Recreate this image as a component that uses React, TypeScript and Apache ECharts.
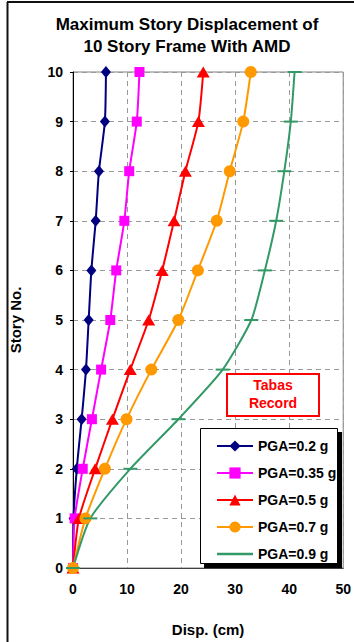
import React, { useEffect, useRef } from "react";
import * as echarts from "echarts";

const stories = [0, 1, 2, 3, 4, 5, 6, 7, 8, 9, 10];
const pga02 = [0, 0.1, 0.7, 1.6, 2.4, 2.9, 3.4, 4.2, 4.8, 5.9, 6.1];
const pga035 = [0, 0.3, 1.8, 3.5, 5.2, 6.9, 8.0, 9.5, 10.4, 11.8, 12.3];
const pga05 = [0, 1.1, 4.1, 7.3, 10.6, 14.0, 16.5, 18.7, 20.8, 23.2, 24.1];
const pga07 = [0, 2.3, 5.9, 9.9, 14.5, 19.5, 23.1, 26.6, 29.0, 31.5, 32.9];
const pga09 = [0, 3.2, 10.6, 19.5, 27.7, 33.0, 35.5, 37.6, 39.1, 40.3, 41.0];
const seriesNames = ["PGA=0.2 g", "PGA=0.35 g", "PGA=0.5 g", "PGA=0.7 g", "PGA=0.9 g"];

const FONT = "'Liberation Sans', Arial, sans-serif";

export default function App() {
  const ref = useRef<HTMLDivElement>(null);
  useEffect(() => {
    if (!ref.current) return;
    const chart = echarts.init(ref.current, undefined, { renderer: "svg" });
    const pairs = (xs: number[]) => xs.map((x, i) => [x, stories[i]]);
    const mk = (
      name: string,
      vals: number[],
      color: string,
      symbol: string,
      symbolSize: any
    ) => ({
      name,
      type: "line",
      data: pairs(vals),
      smooth: 0.2,
      symbol,
      symbolSize,
      showAllSymbol: true,
      lineStyle: { color, width: 2 },
      itemStyle: { color, borderWidth: 0 },
      emphasis: { disabled: true },
      clip: false,
    });
    chart.setOption({
      animation: false,
      textStyle: { fontFamily: FONT },
      title: {
        text: "Maximum Story Displacement of\n10 Story Frame With AMD",
        left: 182,
        top: 8,
        textAlign: "center",
        textStyle: {
          fontFamily: FONT,
          fontSize: 17,
          fontWeight: "bold",
          color: "#000",
          lineHeight: 22,
        },
      },
      grid: {
        left: 71,
        top: 72,
        width: 279,
        height: 502,
        show: true,
        borderColor: "#808080",
        borderWidth: 1,
        backgroundColor: "transparent",
      },
      xAxis: {
        type: "value",
        min: 0,
        max: 50,
        interval: 10,
        name: "Disp. (cm)",
        nameLocation: "middle",
        nameGap: 54,
        nameTextStyle: { fontFamily: FONT, fontSize: 15, fontWeight: "bold", color: "#000" },
        axisLine: { show: true, onZero: false, lineStyle: { color: "#404040", width: 1 } },
        axisTick: { show: false },
        axisLabel: { margin: 14, fontFamily: FONT, fontSize: 14, fontWeight: "bold", color: "#000" },
        splitLine: { show: true, lineStyle: { color: "#999", type: [5, 4], width: 1 } },
      },
      yAxis: {
        type: "value",
        min: 0,
        max: 10,
        interval: 1,
        name: "Story No.",
        nameLocation: "middle",
        nameGap: 50,
        nameRotate: 90,
        nameTextStyle: { fontFamily: FONT, fontSize: 15, fontWeight: "bold", color: "#000" },
        axisLine: { show: true, onZero: false, lineStyle: { color: "#000", width: 1 } },
        axisTick: { show: true, length: 3, lineStyle: { color: "#000" } },
        axisLabel: { margin: 10, fontFamily: FONT, fontSize: 14, fontWeight: "bold", color: "#000" },
        splitLine: { show: true, lineStyle: { color: "#999", type: [5, 4], width: 1 } },
      },
      legend: {
        orient: "vertical",
        left: 211,
        top: 434,
        itemWidth: 36,
        itemHeight: 14,
        itemGap: 13,
        z: 20,
        symbolKeepAspect: true,
        data: [
          seriesNames[0],
          seriesNames[1],
          seriesNames[2],
          seriesNames[3],
          { name: seriesNames[4], icon: "path://M0 0H36V2.5H0Z" },
        ],
        textStyle: { fontFamily: FONT, fontSize: 14, fontWeight: "bold", color: "#000" },
      },
      graphic: [
        { type: "line", shape: { x1: 7.5, y1: 2, x2: 7.5, y2: 642 }, style: { stroke: "#111", lineWidth: 2 }, z: 1 },
        { type: "line", shape: { x1: 7, y1: 2, x2: 354, y2: 2 }, style: { stroke: "#111", lineWidth: 2 }, z: 1 },
        { type: "rect", shape: { x: 204, y: 432, width: 138, height: 136 }, style: { fill: "#000" }, z: 10 },
        { type: "rect", shape: { x: 200.5, y: 428.5, width: 137, height: 135 }, style: { fill: "#fff", stroke: "#000", lineWidth: 1 }, z: 11 },
        { type: "rect", shape: { x: 227, y: 374, width: 92, height: 42 }, style: { fill: "#fff", stroke: "#ff0000", lineWidth: 2 }, z: 10 },
        { type: "text", x: 273, y: 385, style: { text: "Tabas", fill: "#ff0000", font: `bold 14px ${FONT}`, textAlign: "center", textVerticalAlign: "middle" }, z: 12 },
        { type: "text", x: 273, y: 403, style: { text: "Record", fill: "#ff0000", font: `bold 14px ${FONT}`, textAlign: "center", textVerticalAlign: "middle" }, z: 12 },
      ],
      series: [
        mk(seriesNames[0], pga02, "#000080", "diamond", [10, 12]),
        mk(seriesNames[1], pga035, "#ff00ff", "rect", [10, 10]),
        mk(seriesNames[2], pga05, "#ff0000", "triangle", [13, 11]),
        mk(seriesNames[3], pga07, "#ff9900", "circle", 12),
        mk(seriesNames[4], pga09, "#339966", "rect", [14, 2]),
      ],
    });
    return () => chart.dispose();
  }, []);
  return (
    <div
      ref={ref}
      style={{ position: "fixed", left: 0, top: 0, width: 354, height: 642, background: "#fff" }}
    />
  );
}
